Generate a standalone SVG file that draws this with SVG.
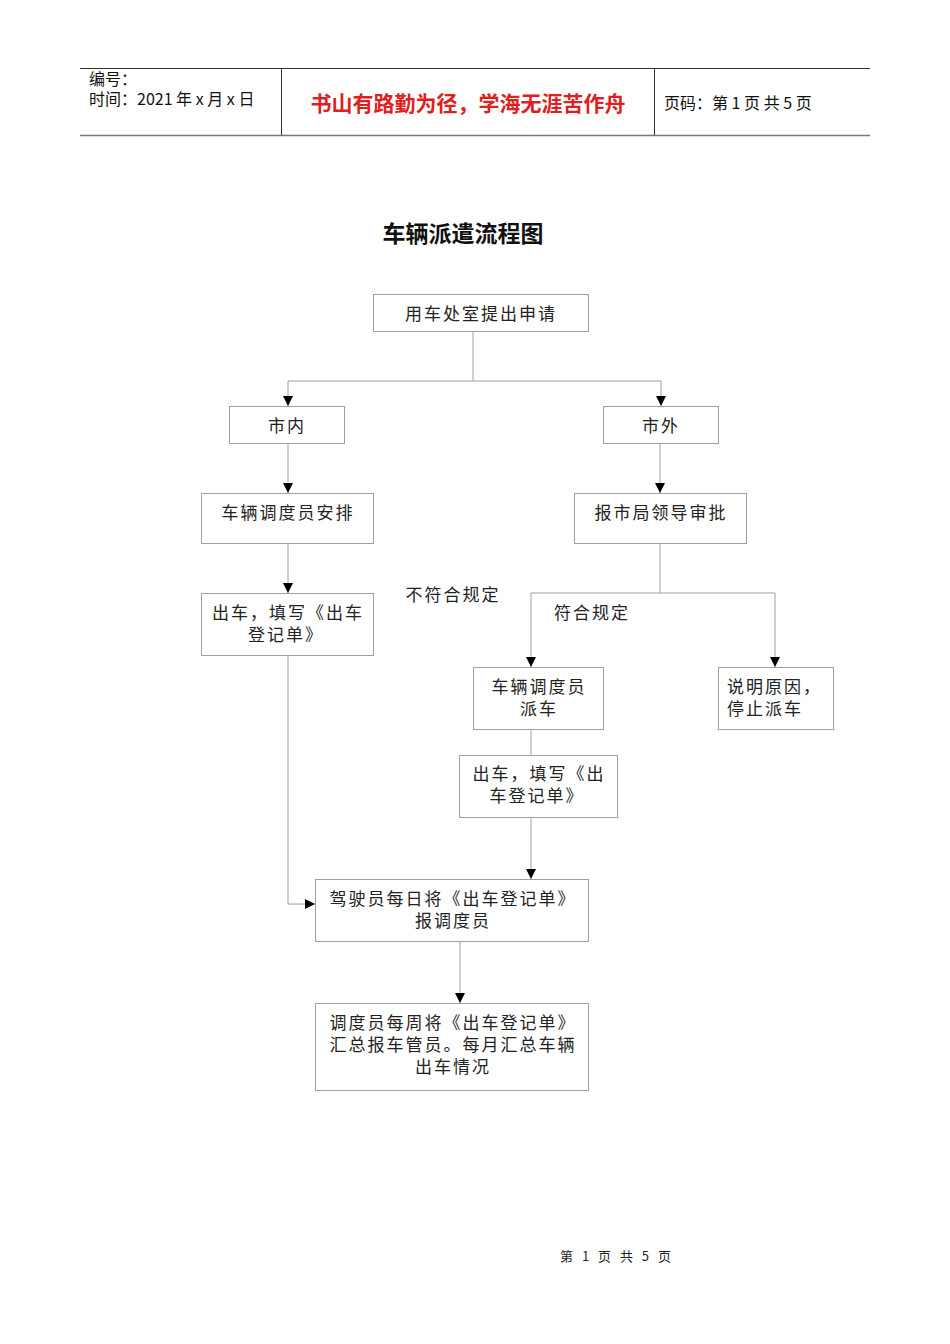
<svg xmlns="http://www.w3.org/2000/svg" width="950" height="1344" viewBox="0 0 950 1344">
<defs>
<style>
.box{fill:#fff;stroke:#a0a0a0;stroke-width:1}
.t{font-family:"Noto Sans CJK SC",sans-serif;font-size:17px;fill:#222;text-anchor:middle;letter-spacing:2px}
.c{fill:none;stroke:#a0a0a0;stroke-width:1}
.h{font-family:"Noto Sans CJK SC",sans-serif;font-size:16px;fill:#111}
</style>
<marker id="a" viewBox="0 0 10 10" refX="10" refY="5" markerWidth="10" markerHeight="10" markerUnits="userSpaceOnUse" orient="auto"><path d="M0,0L10,5L0,10z" fill="#000"/></marker>
</defs>
<rect width="950" height="1344" fill="#fff"/>
<g id="header">
<line x1="80" y1="68.500" x2="870" y2="68.500" stroke="#333"/>
<line x1="80" y1="135.500" x2="870" y2="135.500" stroke="#777" stroke-width="1.500"/>
<line x1="281.500" y1="68" x2="281.500" y2="135" stroke="#333"/>
<line x1="654.500" y1="68" x2="654.500" y2="135" stroke="#333"/>
<text class="h" x="89" y="85">编号：</text>
<text class="h" x="89" y="105">时间：2021 年 x 月 x 日</text>
<text x="468" y="111" font-family="Noto Sans CJK SC,sans-serif" font-size="21" font-weight="bold" fill="#e02020" text-anchor="middle">书山有路勤为径，学海无涯苦作舟</text>
<text class="h" x="664" y="109">页码：第 1 页 共 5 页</text>
</g>
<text x="463" y="242" font-family="Noto Sans CJK SC,sans-serif" font-size="23" font-weight="bold" fill="#111" text-anchor="middle">车辆派遣流程图</text>
<g id="connectors">
<path class="c" d="M473,331V381M288,381H661M288,381V406" marker-end="url(#a)"/>
<path class="c" d="M661,381V406" marker-end="url(#a)"/>
<path class="c" d="M288,443V493" marker-end="url(#a)"/>
<path class="c" d="M660,443V493" marker-end="url(#a)"/>
<path class="c" d="M288,543V593" marker-end="url(#a)"/>
<path class="c" d="M660,543V593M531,593H775M531,593V667" marker-end="url(#a)"/>
<path class="c" d="M775,593V667" marker-end="url(#a)"/>
<path class="c" d="M531,730V755"/>
<path class="c" d="M531,817V879" marker-end="url(#a)"/>
<path class="c" d="M288,625V904H315" marker-end="url(#a)"/>
<path class="c" d="M460,941V1003" marker-end="url(#a)"/>
</g>
<g id="n1"><rect class="box" x="373.500" y="294.500" width="215" height="37"/><text class="t" x="481" y="320">用车处室提出申请</text></g>
<g id="n2"><rect class="box" x="229.500" y="406.500" width="115" height="37"/><text class="t" x="287" y="432">市内</text></g>
<g id="n3"><rect class="box" x="603.500" y="406.500" width="115" height="37"/><text class="t" x="661" y="432">市外</text></g>
<g id="n4"><rect class="box" x="201.500" y="493.500" width="172" height="50"/><text class="t" x="288" y="519">车辆调度员安排</text></g>
<g id="n5"><rect class="box" x="574.500" y="493.500" width="172" height="50"/><text class="t" x="661" y="519">报市局领导审批</text></g>
<g id="n6"><rect class="box" x="201.500" y="593.500" width="172" height="62"/><text class="t" x="288" y="619">出车，填写《出车</text><text class="t" x="286" y="641">登记单》</text></g>
<text class="t" x="453" y="601">不符合规定</text>
<text class="t" x="592" y="619">符合规定</text>
<g id="n7"><rect class="box" x="473.500" y="667.500" width="130" height="62"/><text class="t" x="539" y="693">车辆调度员</text><text class="t" x="539" y="715">派车</text></g>
<g id="n8"><rect class="box" x="718.500" y="667.500" width="115" height="62"/><text class="t" x="727" y="693" style="text-anchor:start">说明原因，</text><text class="t" x="727" y="715" style="text-anchor:start">停止派车</text></g>
<g id="n9"><rect class="box" x="459.500" y="755.500" width="158" height="62"/><text class="t" x="539" y="780">出车，填写《出</text><text class="t" x="537" y="802">车登记单》</text></g>
<g id="n10"><rect class="box" x="315.500" y="879.500" width="273" height="62"/><text class="t" x="453" y="905">驾驶员每日将《出车登记单》</text><text class="t" x="453" y="927">报调度员</text></g>
<g id="n11"><rect class="box" x="315.500" y="1003.500" width="273" height="87"/><text class="t" x="453" y="1029">调度员每周将《出车登记单》</text><text class="t" x="453" y="1051">汇总报车管员。每月汇总车辆</text><text class="t" x="453" y="1073">出车情况</text></g>
<text x="617" y="1261" font-family="Noto Sans CJK SC,sans-serif" font-size="13" fill="#222" text-anchor="middle" letter-spacing="3">第 1 页 共 5 页</text>
</svg>
